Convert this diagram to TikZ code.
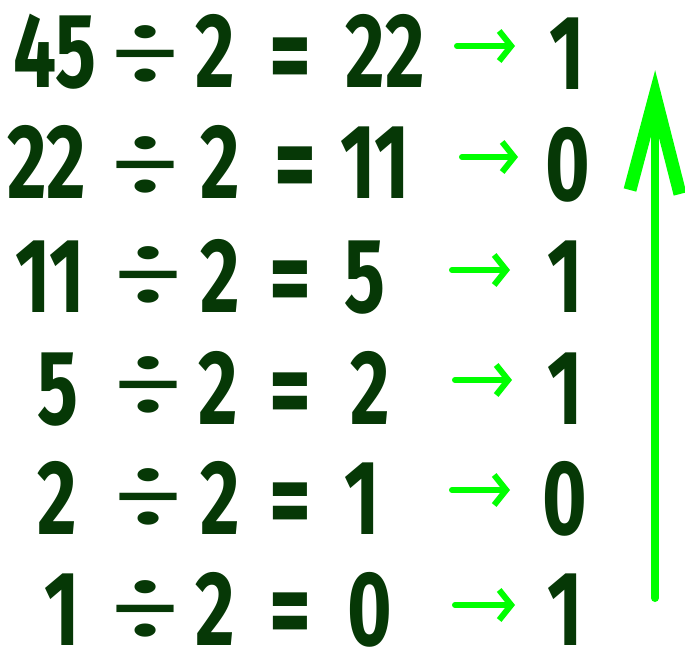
\documentclass[tikz,border=0pt]{standalone}
\usepackage{fontspec}
\usetikzlibrary{arrows.meta}
\newfontfamily\handfont[FakeStretch=0.72]{Fira Sans}
\newfontfamily\divfont[FakeStretch=1.6]{Fira Sans}
\definecolor{dkgreen}{RGB}{6,56,6}
\definecolor{brgreen}{RGB}{0,255,0}
\tikzset{
  num/.style={inner sep=0pt, anchor=base, text=dkgreen, font=\handfont\bfseries\fontsize{106}{106}\selectfont},
  divop/.style={inner sep=0pt, anchor=base, text=dkgreen, font=\divfont\fontsize{95}{95}\selectfont},
  eqop/.style={inner sep=0pt, anchor=base, text=dkgreen, font=\handfont\bfseries\fontsize{112}{112}\selectfont},
  bitarrow/.style={draw=brgreen, line width=6pt, line cap=round, -{Straight Barb[length=12pt, width=30pt, line width=6pt]}},
}
\begin{document}
\begin{tikzpicture}[x=1pt, y=-1pt]
\useasboundingbox (0,0) rectangle (685,650);
% row 1
\node[num]   (a1) at (55,88) {45};
\node[divop] (d1) at (145,86) {÷};
\node[num]   (t1) at (215,88) {2};
\node[eqop]  (e1) at (290,94) {=};
\node[num]   (r1) at (385,88) {22};
\coordinate (s1) at (457,46); \coordinate (f1) at (515,46);
\node[num]   (b1) at (567,90) {1};
% row 2
\node[num]   (a2) at (47,198) {22};
\node[divop] (d2) at (145,196) {÷};
\node[num]   (t2) at (220,198) {2};
\node[eqop]  (e2) at (295,202) {=};
\node[num]   (r2) at (375,198) {11};
\coordinate (s2) at (462,157); \coordinate (f2) at (518,157);
\node[num]   (b2) at (568,200) {0};
% row 3
\node[num]   (a3) at (50,312) {11};
\node[divop] (d3) at (148,306) {÷};
\node[num]   (t3) at (220,312) {2};
\node[eqop]  (e3) at (290,316) {=};
\node[num]   (r3) at (365,312) {5};
\coordinate (s3) at (452,270); \coordinate (f3) at (510,270);
\node[num]   (b3) at (565,312) {1};
% row 4
\node[num]   (a4) at (58,424) {5};
\node[divop] (d4) at (148,416) {÷};
\node[num]   (t4) at (218,424) {2};
\node[eqop]  (e4) at (290,428) {=};
\node[num]   (r4) at (370,424) {2};
\coordinate (s4) at (455,380); \coordinate (f4) at (512,380);
\node[num]   (b4) at (565,424) {1};
% row 5
\node[num]   (a5) at (57,534) {2};
\node[divop] (d5) at (148,528) {÷};
\node[num]   (t5) at (220,534) {2};
\node[eqop]  (e5) at (290,538) {=};
\node[num]   (r5) at (362,534) {1};
\coordinate (s5) at (452,490); \coordinate (f5) at (510,490);
\node[num]   (b5) at (565,534) {0};
% row 6
\node[num]   (a6) at (62,645) {1};
\node[divop] (d6) at (145,640) {÷};
\node[num]   (t6) at (215,645) {2};
\node[eqop]  (e6) at (290,648) {=};
\node[num]   (r6) at (370,645) {0};
\coordinate (s6) at (455,605); \coordinate (f6) at (515,605);
\node[num]   (b6) at (565,645) {1};
% small arrows
\foreach \i in {1,...,6} \draw[bitarrow] (s\i) -- (f\i);
% big arrow
\coordinate (bigstart) at (655,598);
\coordinate (bigtip) at (655,96);
\coordinate (bigl) at (630,190);
\coordinate (bigr) at (680,194);
\draw[draw=brgreen, line width=8pt, line cap=round] (bigstart) -- (bigtip);
\draw[draw=brgreen, line width=13pt, line cap=butt, line join=miter, miter limit=4] (bigl) -- (bigtip) -- (bigr);
\end{tikzpicture}
\end{document}
